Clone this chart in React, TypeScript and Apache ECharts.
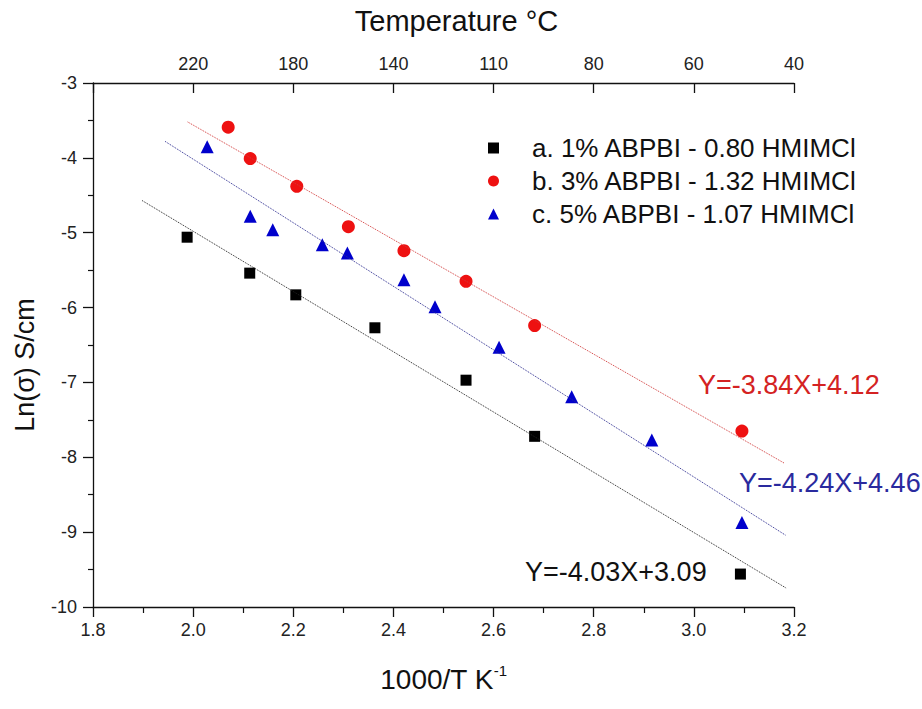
import React, { useEffect, useRef } from "react";
import * as echarts from "echarts";

// Series a: 1% ABPBI - 0.80 HMIMCl
const xA = [1.988, 2.113, 2.205, 2.363, 2.545, 2.682, 3.093];
const yA = [-5.06, -5.54, -5.83, -6.27, -6.97, -7.72, -9.56];
// Series b: 3% ABPBI - 1.32 HMIMCl
const xB = [2.07, 2.114, 2.207, 2.31, 2.421, 2.545, 2.682, 3.096];
const yB = [-3.59, -4.01, -4.38, -4.92, -5.24, -5.65, -6.24, -7.65];
// Series c: 5% ABPBI - 1.07 HMIMCl
const xC = [2.028, 2.114, 2.159, 2.258, 2.308, 2.421, 2.483, 2.611, 2.756, 2.916, 3.096];
const yC = [-3.85, -4.78, -4.96, -5.16, -5.27, -5.63, -5.99, -6.53, -7.19, -7.77, -8.87];

// Linear fit lines (end points)
const fitXA = [1.898, 3.185];
const fitYA = [-4.57, -9.75];
const fitXB = [1.989, 3.181];
const fitYB = [-3.52, -8.08];
const fitXC = [1.944, 3.183];
const fitYC = [-3.78, -9.04];

const seriesNames = [
  "a. 1% ABPBI - 0.80 HMIMCl",
  "b. 3% ABPBI - 1.32 HMIMCl",
  "c. 5% ABPBI - 1.07 HMIMCl",
];
const equations = ["Y=-4.03X+3.09", "Y=-3.84X+4.12", "Y=-4.24X+4.46"];

// Top axis: temperature labels at 1000/T positions
const topTickValues = [2.0, 2.2, 2.4, 2.6, 2.8, 3.0, 3.2];
const topTickLabels = ["220", "180", "140", "110", "80", "60", "40"];

const FONT = "'Liberation Sans', Arial, Helvetica, sans-serif";

const zip = (xs: number[], ys: number[]) => xs.map((x, i) => [x, ys[i]]);

export default function App() {
  const ref = useRef<HTMLDivElement>(null);
  useEffect(() => {
    if (!ref.current) return;
    const chart = echarts.init(ref.current, null, { renderer: "svg" });
    const topLabel = (v: number) => {
      const i = topTickValues.findIndex((t) => Math.abs(t - v) < 1e-6);
      return i >= 0 ? topTickLabels[i] : "";
    };
    const axisLine = { show: true, lineStyle: { color: "#111", width: 1.3 } };
    const labelStyle = { fontFamily: FONT, fontSize: 18, color: "#222" };
    chart.setOption({
      animation: false,
      backgroundColor: "#fff",
      grid: { left: 93, right: 128, top: 83, bottom: 102, containLabel: false },
      xAxis: [
        {
          type: "value",
          position: "bottom",
          min: 1.8,
          max: 3.2,
          interval: 0.2,
          axisLine,
          axisTick: { show: true, inside: false, length: 10, lineStyle: { color: "#111", width: 1.3 } },
          minorTick: { show: true, splitNumber: 2, length: 6, lineStyle: { color: "#111", width: 1.2 } },
          splitLine: { show: false },
          minorSplitLine: { show: false },
          axisLabel: { ...labelStyle, margin: 14, formatter: (v: number) => v.toFixed(1) },
          name: "{a|1000/T K}{s|-1}",
          nameLocation: "middle",
          nameGap: 56,
          nameTextStyle: {
            rich: {
              a: { fontFamily: FONT, fontSize: 28, color: "#111", lineHeight: 32 },
              s: { fontFamily: FONT, fontSize: 15, color: "#111", lineHeight: 14, verticalAlign: "top" },
            },
          },
        },
        {
          type: "value",
          position: "top",
          min: 1.8,
          max: 3.2,
          interval: 0.2,
          axisLine,
          axisTick: { show: true, inside: true, length: 10, lineStyle: { color: "#111", width: 1.3 } },
          splitLine: { show: false },
          axisLabel: { ...labelStyle, margin: 10, formatter: topLabel },
          name: "Temperature °C",
          nameLocation: "middle",
          nameGap: 48,
          nameTextStyle: { fontFamily: FONT, fontSize: 29, color: "#111", padding: [0, 0, 0, 26] },
        },
      ],
      yAxis: {
        type: "value",
        min: -10,
        max: -3,
        interval: 1,
        axisLine,
        axisTick: { show: true, inside: false, length: 10, lineStyle: { color: "#111", width: 1.3 } },
        minorTick: { show: true, splitNumber: 2, length: 5, lineStyle: { color: "#111", width: 1.2 } },
        splitLine: { show: false },
        minorSplitLine: { show: false },
        axisLabel: { ...labelStyle, margin: 16 },
        name: "Ln(σ) S/cm",
        nameLocation: "middle",
        nameGap: 55,
        nameTextStyle: { fontFamily: FONT, fontSize: 27, color: "#111", padding: [0, 40, 0, 0] },
      },
      legend: {
        data: seriesNames,
        orient: "vertical",
        left: 483,
        top: 130,
        itemWidth: 11,
        itemHeight: 11,
        itemGap: 7,
        textStyle: { fontFamily: FONT, fontSize: 26, color: "#111", lineHeight: 26, padding: [0, 0, 0, 28] },
      },
      series: [
        {
          name: "fitA",
          type: "line",
          data: zip(fitXA, fitYA),
          symbol: "none",
          lineStyle: { type: "dotted", width: 1, color: "#222" },
          silent: true,
        },
        {
          name: "fitB",
          type: "line",
          data: zip(fitXB, fitYB),
          symbol: "none",
          lineStyle: { type: "dotted", width: 1, color: "#d23a3a" },
          silent: true,
        },
        {
          name: "fitC",
          type: "line",
          data: zip(fitXC, fitYC),
          symbol: "none",
          lineStyle: { type: "dotted", width: 1, color: "#2b2b8f" },
          silent: true,
        },
        {
          name: seriesNames[0],
          type: "scatter",
          symbol: "rect",
          symbolSize: 11,
          itemStyle: { color: "#000", opacity: 1 },
          data: zip(xA, yA),
        },
        {
          name: seriesNames[1],
          type: "scatter",
          symbol: "circle",
          symbolSize: 13,
          itemStyle: { color: "#ee1111", opacity: 1 },
          data: zip(xB, yB),
        },
        {
          name: seriesNames[2],
          type: "scatter",
          symbol: "triangle",
          symbolSize: 13,
          itemStyle: { color: "#0000cc", opacity: 1 },
          data: zip(xC, yC),
        },
      ],
      graphic: [
        {
          type: "text",
          x: 698,
          y: 385,
          style: { text: equations[1], fontFamily: FONT, fontSize: 27, fill: "#d42222", verticalAlign: "middle" },
        },
        {
          type: "text",
          x: 739,
          y: 483,
          style: { text: equations[2], fontFamily: FONT, fontSize: 27, fill: "#2a2a9e", verticalAlign: "middle" },
        },
        {
          type: "text",
          x: 525,
          y: 572,
          style: { text: equations[0], fontFamily: FONT, fontSize: 27, fill: "#111", verticalAlign: "middle" },
        },
      ],
    });
    return () => chart.dispose();
  }, []);
  return (
    <div
      ref={ref}
      style={{ position: "fixed", left: 0, top: 0, width: 922, height: 709, background: "#fff" }}
    />
  );
}
